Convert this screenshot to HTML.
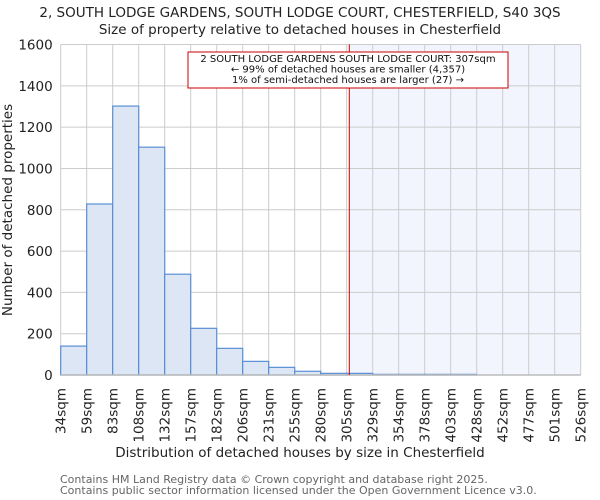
<!DOCTYPE html>
<html><head><meta charset="utf-8"><style>
html,body{margin:0;padding:0;background:#fff;}
svg{display:block;font-family:"DejaVu Sans","Liberation Sans",sans-serif;}
</style></head><body>
<svg id="chart" width="600" height="500" viewBox="0 0 600 500">
<text x="300" y="17" text-anchor="middle" font-size="13.5" fill="#222">2, SOUTH LODGE GARDENS, SOUTH LODGE COURT, CHESTERFIELD, S40 3QS</text>
<text x="300" y="34" text-anchor="middle" font-size="13.5" fill="#222">Size of property relative to detached houses in Chesterfield</text>
<g id="plot"></g>
<text x="300" y="457" text-anchor="middle" font-size="13.5" fill="#222">Distribution of detached houses by size in Chesterfield</text>
<text transform="translate(12,210) rotate(-90)" text-anchor="middle" font-size="13.5" fill="#222">Number of detached properties</text>
<text x="60" y="483" font-size="11" fill="#666">Contains HM Land Registry data © Crown copyright and database right 2025.</text>
<text x="60" y="494" font-size="11" fill="#666">Contains public sector information licensed under the Open Government Licence v3.0.</text>
</svg>
<script>
const tickLabels=["34sqm","59sqm","83sqm","108sqm","132sqm","157sqm","182sqm","206sqm","231sqm","255sqm","280sqm","305sqm","329sqm","354sqm","378sqm","403sqm","428sqm","452sqm","477sqm","501sqm","526sqm"];
const counts=[140,828,1302,1103,488,226,129,66,37,18,8,8,3,3,3,3,0,0,0,0];
const yTicks=[0,200,400,600,800,1000,1200,1400,1600];
const markerIndex=11.1;
const NS="http://www.w3.org/2000/svg";
const g=document.getElementById('plot');
const X0=60.7,X1=580.7,Y0=375,Y1=44.5,YMAX=1600;
const bw=(X1-X0)/counts.length;
const xs=i=>X0+i*bw;
const ys=v=>Y0-(v/YMAX)*(Y0-Y1);
function mk(t,a){const e=document.createElementNS(NS,t);for(const k in a)e.setAttribute(k,a[k]);g.appendChild(e);return e;}
const mx=xs(markerIndex);
let e=mk('rect',{x:mx,y:Y1,width:X1-mx,height:Y0-Y1,fill:'#f2f5fd'});


yTicks.forEach(v=>{
  let l=mk('line',{x1:X0,x2:X1,y1:ys(v),y2:ys(v),stroke:'#ccc','stroke-width':1});
  
  
  let t=mk('text',{x:X0-8,y:ys(v)+5,'text-anchor':'end','font-size':13.5,fill:'#222'});
  t.textContent=v;
  
  
});
tickLabels.forEach((s,i)=>{
  let l=mk('line',{x1:xs(i),x2:xs(i),y1:Y1,y2:Y0,stroke:'#ccc','stroke-width':1});
  
  
  let t=mk('text',{transform:`translate(${xs(i)+5},388) rotate(-90)`,'text-anchor':'end','font-size':13.5,fill:'#222'});
  t.textContent=s;
  
  
});
counts.forEach((c,i)=>{
  if(c<=0)return;
  let r=mk('rect',{x:xs(i),y:ys(c),width:bw,height:Y0-ys(c),fill:'#dce6f4',stroke:'#5a8fd6','stroke-width':1.2});
  
  
});
let ax=mk('line',{x1:X0,x2:X1,y1:Y0,y2:Y0,stroke:'#bbb','stroke-width':1.5});


let ml=mk('line',{x1:mx,x2:mx,y1:Y1,y2:Y0,stroke:'#c00','stroke-width':1});


let box=mk('rect',{x:188,y:52,width:320,height:36,fill:'#fff',stroke:'#c00','stroke-width':1});


["2 SOUTH LODGE GARDENS SOUTH LODGE COURT: 307sqm","← 99% of detached houses are smaller (4,357)","1% of semi-detached houses are larger (27) →"].forEach((s,i)=>{
  let t=mk('text',{x:348,y:62+i*10.5,'text-anchor':'middle','font-size':10,fill:'#111'});
  t.textContent=s;
  
  
});
</script>
</body></html>
